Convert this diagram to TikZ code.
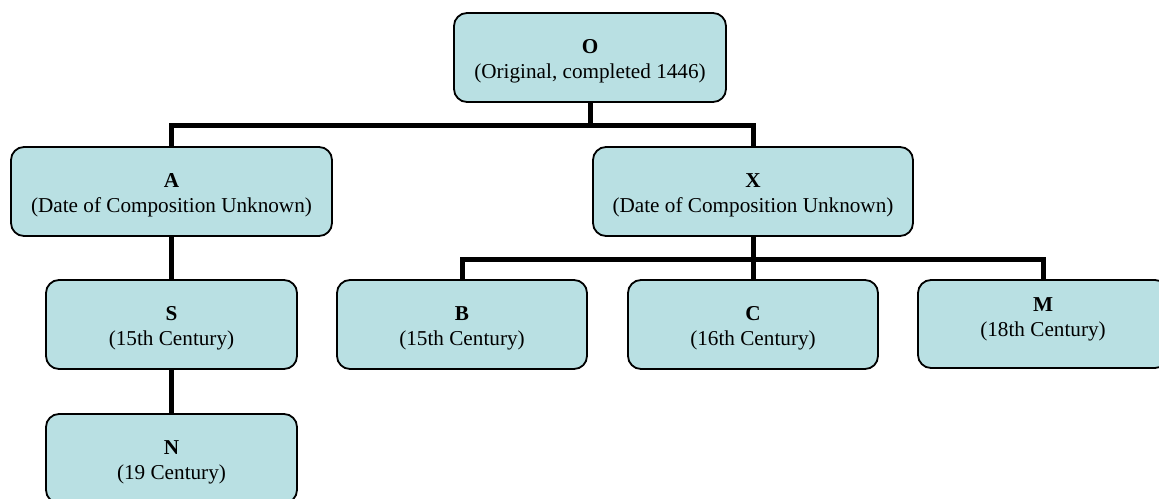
\documentclass[tikz,border=0pt]{standalone}
\usepackage{fontspec}
\setmainfont{Liberation Serif}
\usetikzlibrary{backgrounds}
\definecolor{boxfill}{RGB}{185,224,227}
\tikzset{
  ms/.style={draw=black, line width=1.8pt, fill=boxfill, rounded corners=13pt,
    inner sep=0pt, align=center, text height=46pt, font=\fontsize{21.2}{24.4}\selectfont},
  link/.style={line width=5pt, black, line join=miter}
}
\begin{document}
\begin{tikzpicture}[x=1pt,y=-1pt]
\useasboundingbox (0,0) rectangle (1159,498);
\clip (0,0) rectangle (1159,498);
\node[ms, minimum width=272pt, minimum height=89pt] (O) at (590,57.5) {\textbf{O}\\(Original, completed 1446)};
\node[ms, minimum width=321pt, minimum height=89pt] (A) at (171.5,191.5) {\textbf{A}\\(Date of Composition Unknown)};
\node[ms, minimum width=320pt, minimum height=89pt] (X) at (753,191.5) {\textbf{X}\\(Date of Composition Unknown)};
\node[ms, minimum width=251pt, minimum height=89pt] (S) at (171.5,324.5) {\textbf{S}\\(15th Century)};
\node[ms, minimum width=251pt, minimum height=89pt] (N) at (171.5,458.5) {\textbf{N}\\(19 Century)};
\node[ms, minimum width=250pt, minimum height=89pt] (B) at (462,324.5) {\textbf{B}\\(15th Century)};
\node[ms, minimum width=250pt, minimum height=89pt] (C) at (753,324.5) {\textbf{C}\\(16th Century)};
\node[ms, minimum width=250pt, minimum height=88pt, text depth=22pt] (M) at (1043,324) {\textbf{M}\\(18th Century)};
\coordinate (busO) at (590,125);
\coordinate (busX) at (753,259);
\begin{scope}[on background layer]
\draw[link] (O.south) -- (busO) -| (A.north);
\draw[link] (busO) -| (X.north);
\draw[link] (X.south) -- (busX) -| (B.north);
\draw[link] (busX) -| (C.north);
\draw[link] (busX) -| (M.north);
\draw[link] (A.south) -- (S.north);
\draw[link] (S.south) -- (N.north);
\end{scope}
\end{tikzpicture}
\end{document}
